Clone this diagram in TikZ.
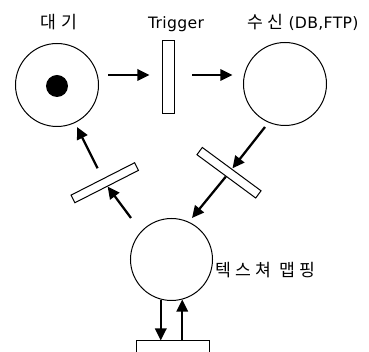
\documentclass[tikz,border=0pt]{standalone}
\usepackage{fontspec}
\setmainfont{DejaVu Sans}[LetterSpace=2]
\newfontfamily\kr{Noto Sans CJK KR}[LetterSpace=25,Scale=1.1]
\usetikzlibrary{arrows.meta,calc}
\begin{document}
\begin{tikzpicture}[x=0.75pt,y=-0.75pt,
  place/.style={circle,draw,line width=0.75pt,inner sep=0,minimum size=62.25pt},
  token/.style={circle,fill,inner sep=0,minimum size=16.5pt},
  bar/.style={rectangle,draw,line width=0.75pt,inner sep=0},
  arr/.style={line width=1.7pt,-{Triangle[length=9pt,width=8.5pt]}},
  lbl/.style={font=\fontsize{11.75}{14}\selectfont,inner sep=0}]
\useasboundingbox (0,0) rectangle (369,352);
% places and transitions
\node[place] (wait) at (57,85) {};
\node[token] (tok) at (57,86) {};
\node[bar,minimum width=9pt,minimum height=54.75pt] (trig) at (169,77.5) {};
\node[place] (recv) at (285,84) {};
\node[bar,minimum width=54.75pt,minimum height=6.75pt,rotate=-36.4] (rbar) at (229,172.75) {};
\node[bar,minimum width=53.5pt,minimum height=6.4pt,rotate=27] (lbar) at (104.75,182.75) {};
\node[place,minimum size=61.5pt] (map) at (171.5,259.5) {};
\node[bar,minimum width=54.75pt,minimum height=9.75pt] (bbar) at (173.5,347.5) {};
% labels
\node[lbl,anchor=base] (lwait) at (59,29) {\kr 대기};
\node[lbl,anchor=base] (ltrig) at (176,28.5) {Trigger};
\node[lbl,anchor=base west] (lrecv) at (247,29) {{\kr 수신} (DB,FTP)};
\node[lbl,anchor=west] (lmap) at (215,270) {\kr 텍스쳐 맵핑};
% free ends
\coordinate (c3) at (265,127);
\coordinate (c4) at (192,218);
\coordinate (c5) at (131,218);
\coordinate (c6) at (77,127);
% arcs
\draw[arr,shorten <=7.1pt,shorten >=9.75pt] ($(wait.east |- trig.west)+(0,-2.5)$) -- ($(trig.west)+(0,-2.5)$);
\draw[arr,shorten <=12.75pt,shorten >=7.9pt] ($(trig.east)+(0,-2.5)$) -- ($(trig.east -| recv.west)+(0,-2.5)$);
\draw[arr,shorten >=0.5pt] (c3) -- (rbar);
\draw[arr] (rbar) -- (c4);
\draw[arr] (c5) -- (lbar);
\draw[arr,shorten <=8.5pt] (lbar) -- (c6);
\draw[arr] (map.255) -- (map.255 |- bbar.north);
\draw[arr] (map.285 |- bbar.north) -- (map.285);
\end{tikzpicture}
\end{document}
